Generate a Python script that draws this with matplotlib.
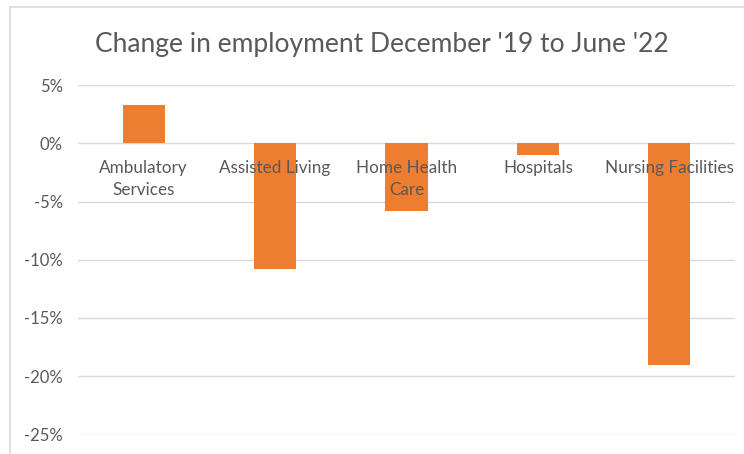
import matplotlib.pyplot as plt
from matplotlib.lines import Line2D

categories = ['Ambulatory\nServices', 'Assisted Living', 'Home Health\nCare',
              'Hospitals', 'Nursing Facilities']
change = [3.3, -10.8, -5.8, -1.0, -19.0]
yticks = [5, 0, -5, -10, -15, -20, -25]
ytick_labels = ['5%', '0%', '-5%', '-10%', '-15%', '-20%', '-25%']

plt.rcParams['font.family'] = ['Lato', 'DejaVu Sans']
grey_txt = '#595959'
grid_col = '#d9d9d9'

fig = plt.figure(figsize=[7.44, 4.54], dpi=100)
ax = fig.add_axes([78 / 744, 1 - 434.5 / 454, 657 / 744, 349.5 / 454])

# gridlines under the bars, category labels over them
for v in yticks:
    ax.axhline(v, color=grid_col, lw=1.0, zorder=0)

x = range(len(categories))
ax.bar(x, change, width=0.32, color='#ED7D31', zorder=1)

ax.set_axisbelow(False)
ax.set_xlim(-0.5, len(categories) - 0.5)
ax.set_ylim(-25, 5)
ax.set_yticks(yticks)
ax.set_yticklabels(ytick_labels)
ax.set_xticks(list(x))
ax.set_xticklabels(categories)

for s in ['top', 'right', 'left', 'bottom']:
    ax.spines[s].set_visible(False)
# category labels sit just under the zero line, like Excel does
ax.spines['bottom'].set_position(('data', 0))

ax.tick_params(axis='y', length=0, pad=11, labelsize=12, labelcolor=grey_txt)
ax.tick_params(axis='x', length=0, pad=12, labelsize=12.3, labelcolor=grey_txt)
for lbl in ax.get_xticklabels():
    lbl.set_linespacing(1.48)

fig.text(382 / 744, 1 - 52 / 454, "Change in employment December '19 to June '22",
         ha='center', va='baseline', fontsize=19, color=grey_txt)

# chart frame
fig.add_artist(Line2D([10 / 744, 10 / 744], [0, 1 - 7 / 454],
                      color=grid_col, lw=1.2, transform=fig.transFigure))
fig.add_artist(Line2D([10 / 744, 1], [1 - 7 / 454, 1 - 7 / 454],
                      color=grid_col, lw=1.2, transform=fig.transFigure))

fig.savefig('out.png', dpi=100)
